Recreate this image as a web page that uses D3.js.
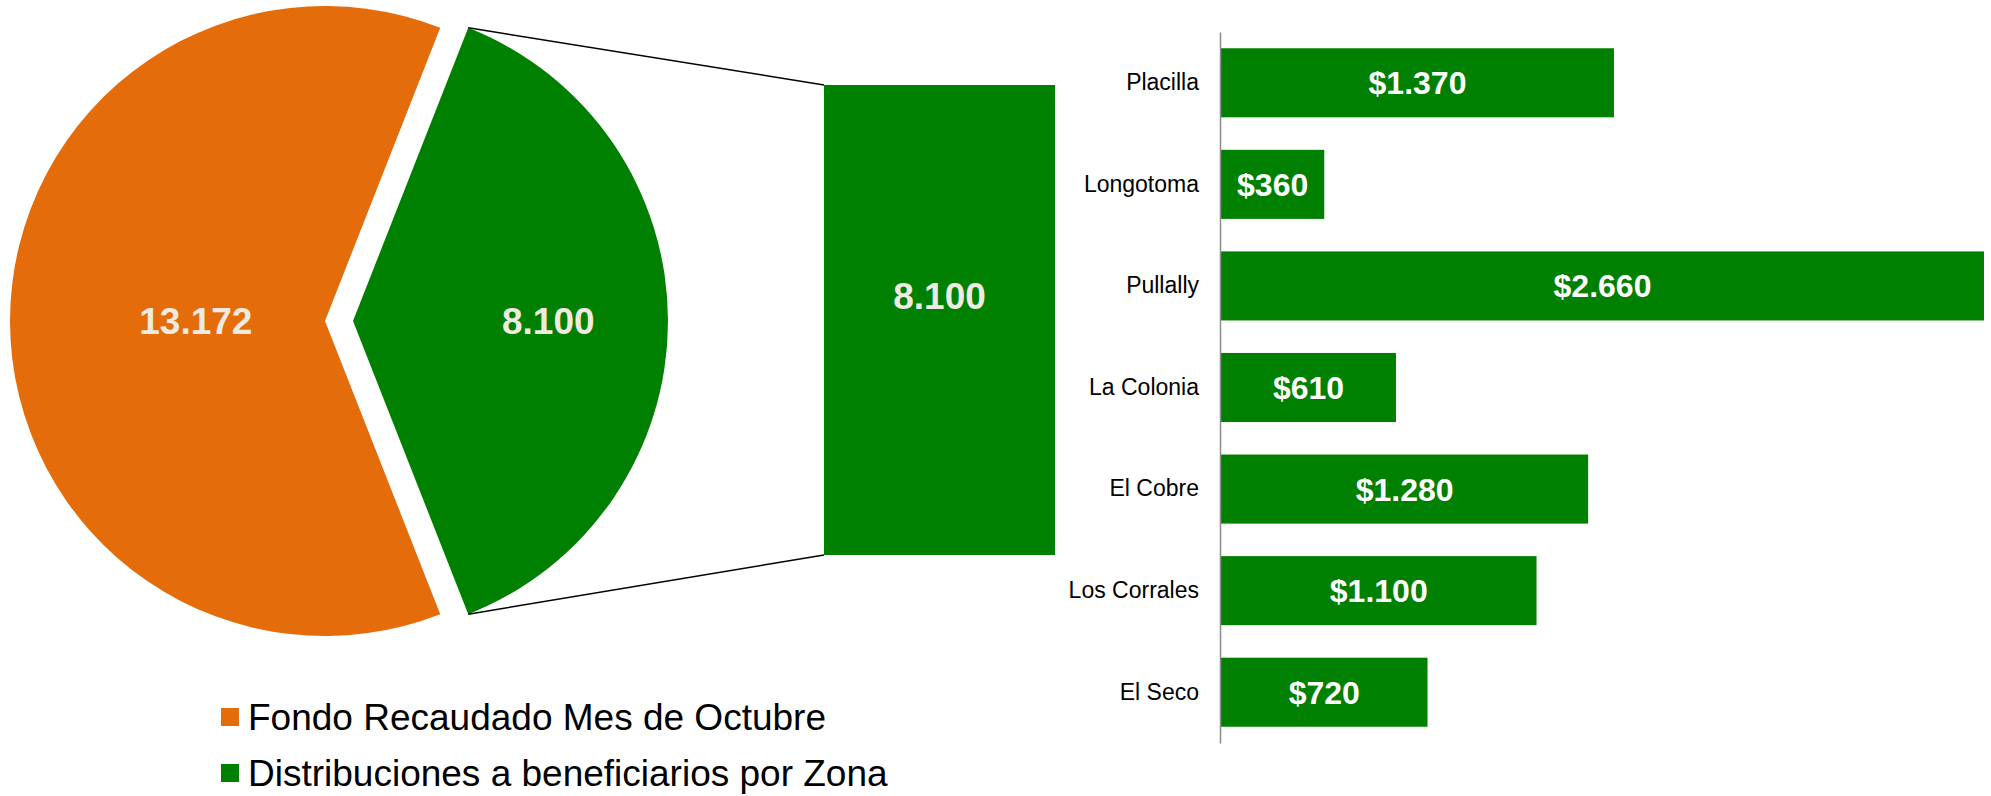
<!DOCTYPE html>
<html>
<head>
<meta charset="utf-8">
<script src="https://cdn.jsdelivr.net/npm/d3@7"></script>
<style>
  body { margin: 0; background: #fff; }
  text { font-family: "Liberation Sans", Arial, sans-serif; }
</style>
</head>
<body>
<svg width="1991" height="796"></svg>
<script>

// data
var pieLabels = ["Fondo Recaudado Mes de Octubre", "Distribuciones a beneficiarios por Zona"];
var pieValues = [13172, 8100];
var pieColors = ["#e46c0a", "#008000"];

var zones = ["Placilla", "Longotoma", "Pullally", "La Colonia", "El Cobre", "Los Corrales", "El Seco"];
var zoneValues = [1370, 360, 2660, 610, 1280, 1100, 720];

var fmt = d3.formatLocale({ decimal: ",", thousands: ".", grouping: [3], currency: ["$", ""] });
var num = fmt.format(",d");

var svg = d3.select("svg"),
  width = +svg.attr("width"),
  height = +svg.attr("height");

// pie
var cx = 339, cy = 321, r = 315, explode = 14;
var total = d3.sum(pieValues);
var greenSpan = 2 * Math.PI * pieValues[1] / total;
var start = Math.PI / 2 + greenSpan / 2;

var pie = d3.pie().sort(null)
  .startAngle(start)
  .endAngle(start + 2 * Math.PI);

var arc = d3.arc().innerRadius(0).outerRadius(r);
var slices = pie(pieValues);

// label distance from the slice tip, as fraction of radius
var labelR = [0.41, 0.62];

var pieG = svg.append("g").attr("transform", "translate(" + cx + "," + cy + ")");

slices.forEach(function (d, i) {
  var mid = (d.startAngle + d.endAngle) / 2;
  var ox = Math.sin(mid) * explode, oy = -Math.cos(mid) * explode;
  d.ox = ox; d.oy = oy;
  var g = pieG.append("g").attr("transform", "translate(" + ox + "," + oy + ")");
  g.append("path")
    .attr("d", arc(d))
    .attr("fill", pieColors[i]);
  g.append("text")
    .attr("x", Math.sin(mid) * r * labelR[i])
    .attr("y", -Math.cos(mid) * r * labelR[i])
    .attr("dy", "0.36em")
    .attr("text-anchor", "middle")
    .style("font-size", "37px")
    .style("font-weight", "bold")
    .style("fill", "#efebe2")
    .text(num(pieValues[i]));
});

// stacked column for the breakdown
var colX = 824, colW = 231;
var colY = d3.scaleLinear().domain([0, pieValues[1]]).range([555, 85]);

svg.append("rect")
  .attr("x", colX)
  .attr("y", colY(pieValues[1]))
  .attr("width", colW)
  .attr("height", colY(0) - colY(pieValues[1]))
  .attr("fill", pieColors[1]);

svg.append("text")
  .attr("x", colX + colW / 2)
  .attr("y", 296)
  .attr("dy", "0.36em")
  .attr("text-anchor", "middle")
  .style("font-size", "37px")
  .style("font-weight", "bold")
  .style("fill", "#efebe2")
  .text(num(pieValues[1]));

// connector lines from the green slice to the column
var g1 = slices[1];
var topCorner = [cx + g1.ox + Math.sin(g1.startAngle) * r, cy + g1.oy - Math.cos(g1.startAngle) * r];
var botCorner = [cx + g1.ox + Math.sin(g1.endAngle) * r, cy + g1.oy - Math.cos(g1.endAngle) * r];

svg.append("line")
  .attr("x1", topCorner[0]).attr("y1", topCorner[1])
  .attr("x2", colX).attr("y2", colY(pieValues[1]))
  .style("stroke", "#000").style("stroke-width", 1.5);
svg.append("line")
  .attr("x1", botCorner[0]).attr("y1", botCorner[1])
  .attr("x2", colX).attr("y2", colY(0))
  .style("stroke", "#000").style("stroke-width", 1.5);

// bar chart
var x = d3.scaleLinear().domain([0, 2660]).range([1221, 1984]);
var y = d3.scaleBand().domain(zones).range([32, 743]).paddingInner(0.32).paddingOuter(0.16);

svg.append("g")
  .selectAll("rect")
  .data(zones)
  .enter().append("rect")
  .attr("x", x(0))
  .attr("y", function (d) { return y(d); })
  .attr("width", function (d, i) { return x(zoneValues[i]) - x(0); })
  .attr("height", y.bandwidth())
  .attr("fill", "#008000");

svg.append("g")
  .selectAll("text")
  .data(zones)
  .enter().append("text")
  .attr("x", function (d, i) { return (x(0) + x(zoneValues[i])) / 2; })
  .attr("y", function (d) { return y(d) + y.bandwidth() / 2; })
  .attr("dy", "0.36em")
  .attr("text-anchor", "middle")
  .style("font-size", "32px")
  .style("font-weight", "bold")
  .style("fill", "#fff")
  .text(function (d, i) { return "$" + num(zoneValues[i]); });

// category axis
var yAxis = svg.append("g")
  .attr("transform", "translate(" + (x(0) - 1) + ",0)")
  .call(d3.axisLeft(y).tickSize(0).tickPadding(21));
yAxis.select(".domain").attr("stroke", "#8c8c8c").attr("stroke-width", 1.5);
yAxis.selectAll("text")
  .style("font-family", "'Liberation Sans', Arial, sans-serif")
  .style("font-size", "23px")
  .style("fill", "#000");

// legend
var legend = svg.append("g").selectAll("g")
  .data(pieLabels)
  .enter().append("g")
  .attr("transform", function (d, i) { return "translate(221," + (717 + i * 56) + ")"; });

legend.append("rect")
  .attr("x", 0).attr("y", -9)
  .attr("width", 18).attr("height", 18)
  .attr("fill", function (d, i) { return pieColors[i]; });

legend.append("text")
  .attr("x", 27)
  .attr("dy", "0.36em")
  .style("font-size", "37px")
  .style("fill", "#000")
  .text(function (d) { return d; });

</script>
</body>
</html>
